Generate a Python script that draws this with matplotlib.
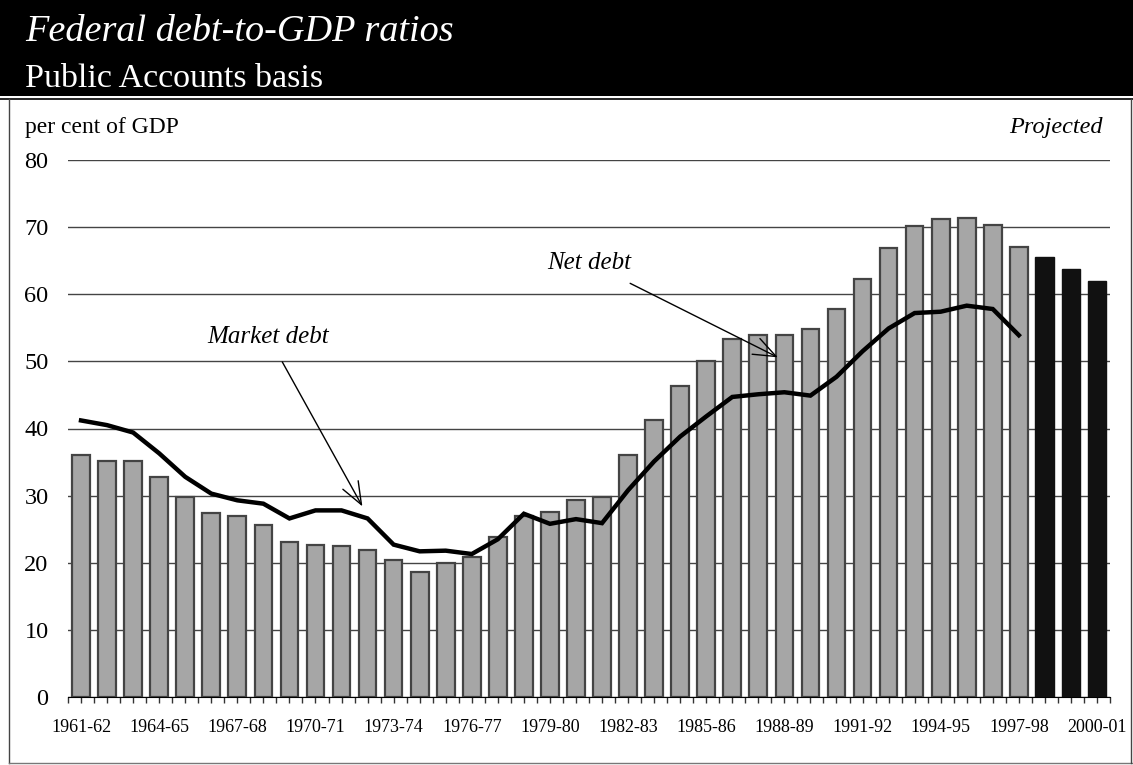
import matplotlib.pyplot as plt
from matplotlib.lines import Line2D
from matplotlib.patches import Rectangle

years = [f"{y}-{str(y + 1)[-2:]}" for y in range(1961, 2001)]

# net debt, per cent of GDP (last three are projections)
net_debt = [36.1, 35.2, 35.2, 32.8, 29.8, 27.4, 27.0, 25.6, 23.1, 22.7,
            22.5, 21.9, 20.4, 18.6, 20.0, 20.9, 23.8, 26.9, 27.6, 29.3,
            29.8, 36.1, 41.3, 46.3, 50.1, 53.4, 54.0, 54.0, 54.8, 57.8,
            62.3, 66.9, 70.2, 71.2, 71.3, 70.3, 67.0, 65.5, 63.8, 61.9]
n_projected = 3

# market debt, 1961-62 to 1997-98
market_debt = [41.2, 40.5, 39.4, 36.3, 32.8, 30.3, 29.3, 28.8, 26.6, 27.8,
               27.8, 26.6, 22.7, 21.7, 21.8, 21.3, 23.5, 27.3, 25.8, 26.5,
               25.9, 30.8, 35.1, 38.8, 41.8, 44.7, 45.1, 45.4, 44.9, 47.7,
               51.5, 54.9, 57.2, 57.4, 58.3, 57.8, 53.9]

plt.rcParams["font.family"] = ["Liberation Serif", "DejaVu Serif"]

fig = plt.figure(figsize=(11.33, 7.65), dpi=100)
W, H = 1133, 765

# header band and frame
fig.patches.append(Rectangle((0, 1 - 96 / H), 1, 96 / H, transform=fig.transFigure,
                             facecolor="black", edgecolor="none", zorder=0))
fig.lines.append(Line2D([0, 1], [1 - 98.5 / H] * 2, transform=fig.transFigure,
                        color="black", lw=1.2))
fig.lines.append(Line2D([9 / W, 9 / W], [1 - 98.5 / H, 1 - 763 / H],
                        transform=fig.transFigure, color="#444444", lw=1))
fig.lines.append(Line2D([9 / W, 1], [1 - 763 / H] * 2,
                        transform=fig.transFigure, color="#777777", lw=1))
fig.lines.append(Line2D([1131 / W] * 2, [1 - 98.5 / H, 1 - 763 / H],
                        transform=fig.transFigure, color="#444444", lw=1))

fig.text(25 / W, 1 - 41 / H, "Federal debt-to-GDP ratios", color="white",
         fontsize=27.5, style="italic", va="baseline")
fig.text(25 / W, 1 - 87 / H, "Public Accounts basis", color="white",
         fontsize=24.5, va="baseline")
fig.text(25 / W, 1 - 133 / H, "per cent of GDP", fontsize=17, va="baseline")
fig.text(1103 / W, 1 - 133 / H, "Projected", fontsize=17.5, style="italic",
         va="baseline", ha="right")

ax = fig.add_axes([68 / W, 1 - 697 / H, (1110 - 68) / W, (697 - 160) / H])

x = list(range(len(years)))
n_hist = len(years) - n_projected
ax.bar(x[:n_hist], net_debt[:n_hist], width=0.68, color="#a6a6a6",
       edgecolor="#444444", linewidth=1.6, zorder=2)
ax.bar(x[n_hist:], net_debt[n_hist:], width=0.72, color="#111111",
       edgecolor="#111111", linewidth=1, zorder=2)
ax.plot(x[:len(market_debt)], market_debt, color="black", lw=3.2,
        solid_joinstyle="miter", zorder=3)

ax.set_xlim(-0.5, len(years) - 0.5)
ax.set_ylim(0, 80)
ax.set_yticks(range(0, 81, 10))
ax.yaxis.grid(True, color="#444444", lw=1)
ax.set_axisbelow(True)
for s in ["left", "right", "top"]:
    ax.spines[s].set_visible(False)
ax.spines["bottom"].set_color("black")
ax.spines["bottom"].set_zorder(4)
ax.tick_params(axis="y", length=0, labelsize=17.5, pad=14)

ax.set_xticks(x)
ax.set_xticklabels([y if i % 3 == 0 else "" for i, y in enumerate(years)])
ax.set_xticks([i + 0.5 for i in x[:-1]] + [-0.5, len(years) - 0.5], minor=True)
ax.tick_params(axis="x", which="both", length=4, width=1, color="#333333",
               labelsize=13, pad=12)

ax.annotate("Market debt", xy=(10.8, 28.4), xytext=(7.2, 53.6),
            fontsize=18, style="italic", ha="center", va="center",
            arrowprops=dict(arrowstyle="->,head_length=0.9,head_width=0.35",
                            color="black", lw=1, shrinkA=9, shrinkB=0))
ax.annotate("Net debt", xy=(26.75, 50.6), xytext=(19.5, 64.7),
            fontsize=18, style="italic", ha="center", va="center",
            arrowprops=dict(arrowstyle="->,head_length=0.9,head_width=0.35",
                            color="black", lw=1, shrinkA=11, shrinkB=0))

fig.savefig("out.png", dpi=100)
